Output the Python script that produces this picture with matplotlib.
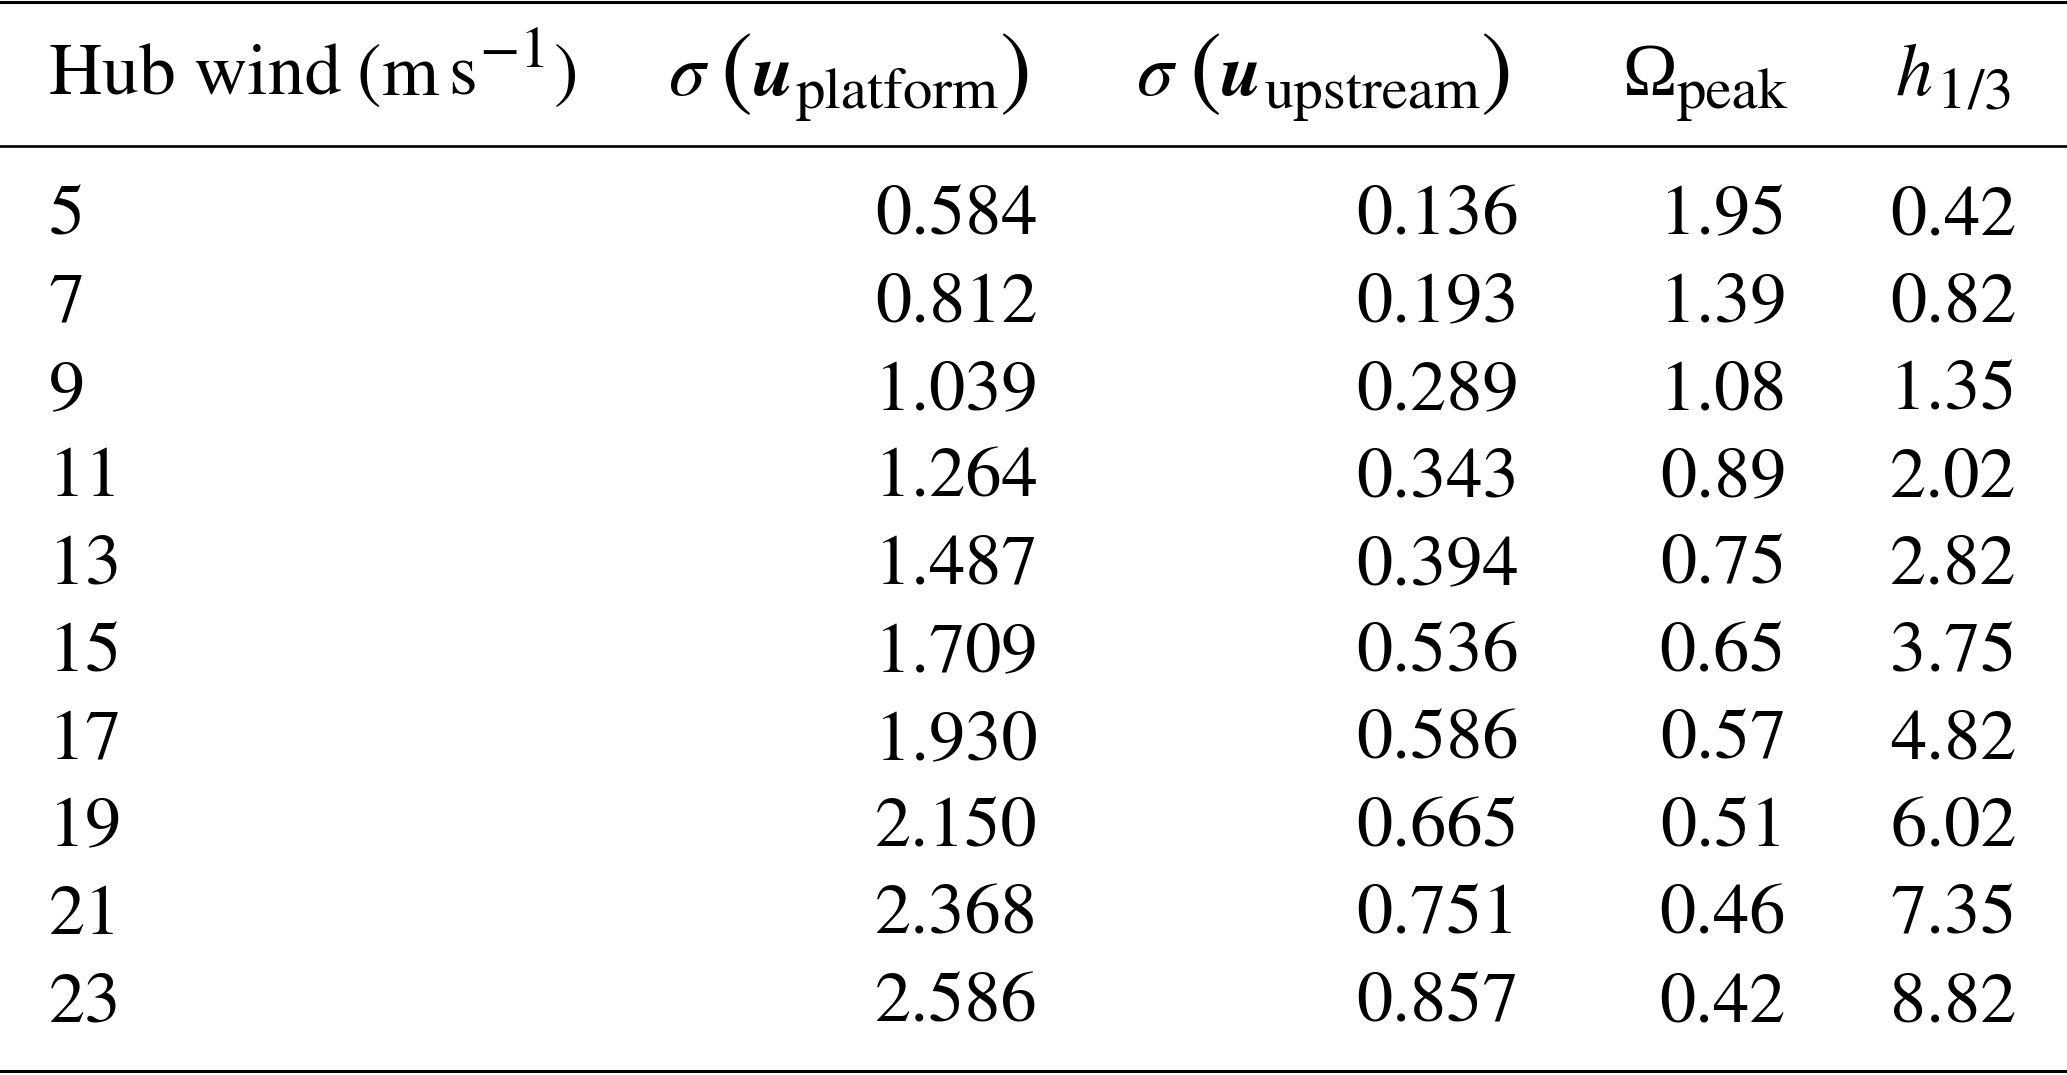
import matplotlib
matplotlib.use("Agg")
import matplotlib.pyplot as plt

plt.rcParams['mathtext.fontset'] = 'stix'
plt.rcParams['font.family'] = ['STIXGeneral', 'Liberation Serif', 'DejaVu Serif']

hub_wind = ['5', '7', '9', '11', '13', '15', '17', '19', '21', '23']
sigma_platform = ['0.584', '0.812', '1.039', '1.264', '1.487',
                  '1.709', '1.930', '2.150', '2.368', '2.586']
sigma_upstream = ['0.136', '0.193', '0.289', '0.343', '0.394',
                  '0.536', '0.586', '0.665', '0.751', '0.857']
omega_peak = ['1.95', '1.39', '1.08', '0.89', '0.75',
              '0.65', '0.57', '0.51', '0.46', '0.42']
h13 = ['0.42', '0.82', '1.35', '2.02', '2.82',
       '3.75', '4.82', '6.02', '7.35', '8.82']

W, H = 1568, 815  # layout units
fig = plt.figure(figsize=(20.67, 10.75), dpi=100)
ax = fig.add_axes([0, 0, 1, 1])
ax.set_xlim(0, W)
ax.set_ylim(H, 0)
ax.axis('off')
px_per_unit = 2067 / W

fs_head = 53
fs_body = 52
sub = 0.8

# rules
ax.axhline(1.5, color='black', lw=2.2)
ax.axhline(110.5, color='black', lw=1.9)
ax.axhline(812, color='black', lw=2.2)

renderer = fig.canvas.get_renderer()


def draw_pieces(x, y, pieces, ha='left'):
    # pieces: (text, size factor, baseline shift, gap before, extra kwargs)
    arts, gaps = [], []
    for s, k, dy, gap, kw in pieces:
        a = ax.text(0, y + dy, s, fontsize=fs_head * k, va='baseline',
                    ha='left', **kw)
        arts.append(a)
        gaps.append(gap)
    widths = [a.get_window_extent(renderer).width / px_per_unit for a in arts]
    total = sum(widths) + sum(gaps)
    cur = x - total if ha == 'right' else x
    for a, w, g in zip(arts, widths, gaps):
        cur += g
        a.set_x(cur)
        cur += w


base = 72
bi = dict(fontstyle='italic', fontweight='bold')
times = dict(family='Liberation Serif')
draw_pieces(37, base, [('Hub wind', 1, 0, 0, {}),
                       ('(', 1, 0, 12, {}),
                       ('m', 1, 0, 0, {}),
                       ('s', 1, 0, 7, {}),
                       ('\u2212', 0.8, -21, 2, {}),
                       ('1', 0.8, -21, 0, {}),
                       (')', 1, 0, 4, {})])
for right, name in [(782, 'platform'), (1147, 'upstream')]:
    draw_pieces(right, base, [(r'$\sigma$', 1, 0, 0, {}),
                              ('(', 1.3, 2, 9, dict(fontweight='light')),
                              ('u', 1, 0, 0, bi),
                              (name, sub, 10, 2, {}),
                              (')', 1.3, 2, 0, dict(fontweight='light'))],
                ha='right')
draw_pieces(1356, base, [('\u03a9', 1, 0, 0, times),
                         ('peak', sub, 10, 0, {})], ha='right')
draw_pieces(1527, base, [(r'$h$', 1, 0, 0, {}),
                         ('1', sub, 10, 3, {}),
                         ('/', sub, 10, 1, {}),
                         ('3', sub, 10, 0, {})], ha='right')

columns = [hub_wind, sigma_platform, sigma_upstream, omega_peak, h13]
col_x = [37, 787, 1152, 1355, 1530]
col_ha = ['left', 'right', 'right', 'right', 'right']
row_y0, row_dy = 177.5, 66.3
for cx, ha, col in zip(col_x, col_ha, columns):
    for i, v in enumerate(col):
        ax.text(cx, row_y0 + i * row_dy, v, ha=ha, va='baseline',
                fontsize=fs_body)

fig.savefig('out.png', dpi=100)
